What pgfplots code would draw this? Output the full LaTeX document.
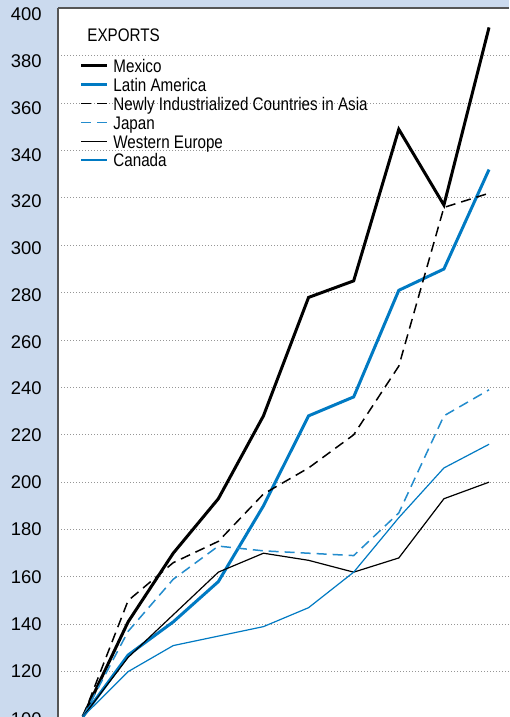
\documentclass[border=0pt]{standalone}
\usepackage{pgfplots}
\pgfplotsset{compat=1.18}
\usepackage{fontspec}
\setmainfont{Liberation Sans}
\newfontfamily\legfont{Liberation Sans}[FakeStretch=0.835]
\definecolor{bgblue}{RGB}{203,218,238}
\definecolor{axisgray}{RGB}{85,85,85}
\definecolor{lineblue}{RGB}{0,122,195}
\definecolor{japanblue}{RGB}{35,140,205}
\definecolor{gridgray}{RGB}{150,150,150}

% export indices, one row per year (x = 0..9)
\pgfplotstableread{
x  mex  lat  nic  jap  weu  can
0  101  101  101  101  101  101
1  141  127  150  137  126  120
2  170  141  166  159  144  131
3  193  158  175  173  162  135
4  228  190  195  171  170  139
5  278  228  206  170  167  147
6  285  236  220  169  162  162
7  349  281  249  187  168  185
8  317  290  316  228  193  206
9  392  332  322  239  200  216
}\exports

\begin{document}
\begin{tikzpicture}
\useasboundingbox (0,0) rectangle (254.5pt,358.5pt);
\fill[bgblue] (0,0) rectangle (254.5pt,358.5pt);
\clip (0,0) rectangle (254.5pt,358.5pt);
\begin{axis}[
  at={(29pt,-1pt)},anchor=south west,
  scale only axis,width=225.5pt,height=355.25pt,
  xmin=-0.554,xmax=9.443,ymin=100,ymax=400,
  axis x line*=top,axis y line*=left,
  x axis line style={draw=axisgray,line width=1pt},
  y axis line style={draw=axisgray,line width=0.6pt},
  xtick=\empty,ytick={100,120,...,400},
  tick style={draw=none},
  ymajorgrids,
  major grid style={draw=gridgray,line width=0.5pt,dash pattern=on 0.5pt off 1pt},
  axis background/.style={fill=white},
  /pgf/number format/assume math mode=true,
  yticklabel style={font=\fontsize{9.2}{10}\selectfont,anchor=east,
    inner sep=0pt,xshift=-8pt,yshift={-max(0,\ticknum-5)*0.3pt}},
  every axis plot/.append style={line join=miter},
]
\addplot[black,line width=1.5pt] table[x=x,y=mex]{\exports};
\addplot[lineblue,line width=1.5pt] table[x=x,y=lat]{\exports};
\addplot[black,line width=0.75pt,dash pattern=on 5pt off 3pt] table[x=x,y=nic]{\exports};
\addplot[japanblue,line width=0.75pt,dash pattern=on 5pt off 3pt] table[x=x,y=jap]{\exports};
\addplot[black,line width=0.6pt] table[x=x,y=weu]{\exports};
\addplot[lineblue,line width=0.6pt] table[x=x,y=can]{\exports};
\end{axis}
% legend, in pixel coordinates of the reference
\begin{scope}[x=0.5pt,y=-0.5pt,shift={(0pt,358.5pt)},
  lab/.style={anchor=base west,inner sep=0pt,font=\legfont\fontsize{9.1}{10}\selectfont}]
\node[lab] at (87,42) {EXPORTS};
\draw[black,line width=1.5pt] (81,66) -- (107,66);
\node[lab] at (113,73) {Mexico};
\draw[lineblue,line width=1.5pt] (81,84.8) -- (107,84.8);
\node[lab] at (113,91.8) {Latin America};
\draw[black,line width=0.75pt,dash pattern=on 5pt off 3pt] (81,103.6) -- (107,103.6);
\node[lab] at (113,110.6) {Newly Industrialized Countries in Asia};
\draw[japanblue,line width=0.75pt,dash pattern=on 5pt off 3pt] (81,122.4) -- (107,122.4);
\node[lab] at (113,129.4) {Japan};
\draw[black,line width=0.6pt] (81,141.2) -- (107,141.2);
\node[lab] at (113,148.2) {Western Europe};
\draw[lineblue,line width=0.6pt] (81,160) -- (107,160);
\node[lab] at (113,167) {Canada};
\end{scope}
\end{tikzpicture}
\end{document}
